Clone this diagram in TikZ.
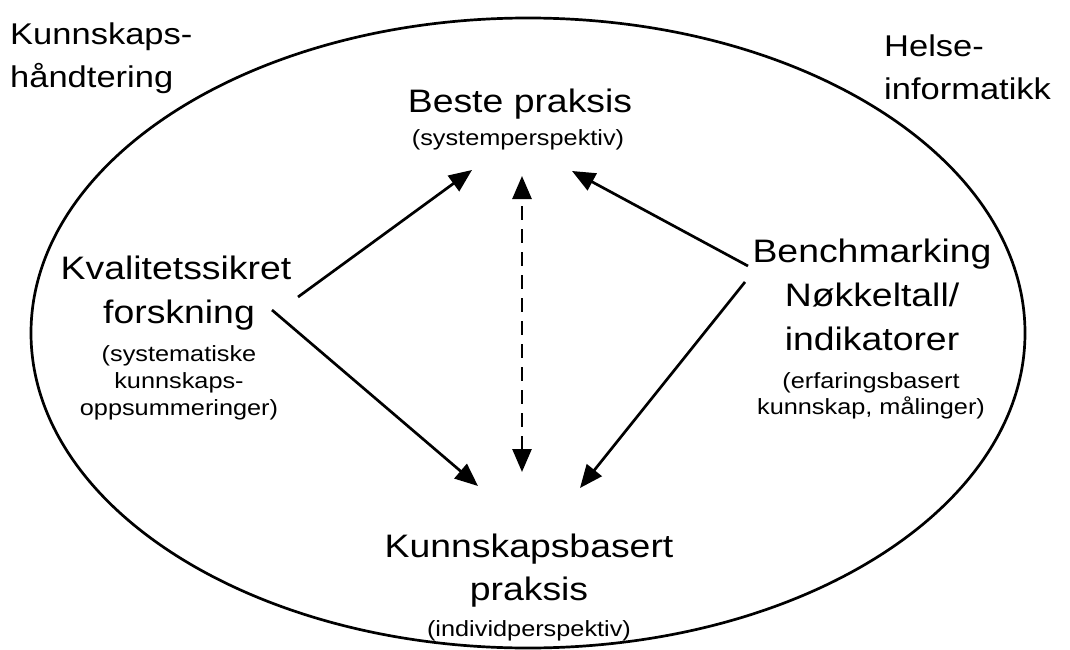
\documentclass[tikz,border=0pt]{standalone}
\usepackage{fontspec}
\setmainfont{Liberation Sans}[FakeStretch=1.15]
\usetikzlibrary{arrows.meta}
\begin{document}
\begin{tikzpicture}[x=1pt,y=-1pt,
  big/.style={font=\fontsize{32.5}{40}\selectfont, inner sep=0pt, anchor=base},
  small/.style={font=\fontsize{22}{27}\selectfont, inner sep=0pt, anchor=base},
  corner/.style={font=\fontsize{30}{36}\selectfont, inner sep=0pt, anchor=base west},
  tip/.style={Triangle[length=23pt,width=19pt]},
  link/.style={line width=2.7pt, -{Triangle[length=23pt,width=19pt]}},
  both/.style={line width=2.7pt, dash pattern=on 14pt off 9pt,
    {Triangle[length=23pt,width=19pt]}-{Triangle[length=23pt,width=19pt]}}]
\useasboundingbox (0,0) rectangle (1070,650);

% outer domain
\draw[line width=2.7pt] (528,333) ellipse [x radius=497, y radius=315];

% corner labels
\node[corner] (kh1) at (10,45) {Kunnskaps-};
\node[corner] (kh2) at (10,88) {håndtering};
\node[corner] (hi1) at (884,57) {Helse-};
\node[corner] (hi2) at (884,100) {informatikk};

% best practice (top)
\node[big]   (bp1) at (520,113) {Beste praksis};
\node[small] (bp2) at (518,145) {(systemperspektiv)};

% quality-assured research (left)
\node[big]   (kf1) at (176,279) {Kvalitetssikret};
\node[big]   (kf2) at (179,323) {forskning};
\node[small] (kf3) at (179,361) {(systematiske};
\node[small] (kf4) at (179,388) {kunnskaps-};
\node[small] (kf5) at (179,415) {oppsummeringer)};

% benchmarking (right)
\node[big]   (bm1) at (872,262) {Benchmarking};
\node[big]   (bm2) at (872,306) {Nøkkeltall/};
\node[big]   (bm3) at (872,350) {indikatorer};
\node[small] (bm4) at (871,388) {(erfaringsbasert};
\node[small] (bm5) at (871,414) {kunnskap, målinger)};

% knowledge-based practice (bottom)
\node[big]   (kp1) at (529,557) {Kunnskapsbasert};
\node[big]   (kp2) at (529,600) {praksis};
\node[small] (kp3) at (529,636) {(individperspektiv)};

% arrow ends
\coordinate (kfUp)   at (298,297);
\coordinate (kfDown) at (272,310);
\coordinate (bmUp)   at (748,266);
\coordinate (bmDown) at (745,282);
\coordinate (bpL)    at (472,170);
\coordinate (bpR)    at (572,171);
\coordinate (bpM)    at (522,176);
\coordinate (kpL)    at (478,486);
\coordinate (kpR)    at (580,488);
\coordinate (kpM)    at (522,472);

\draw[link] (kfUp) -- (bpL);
\draw[link] (kfDown) -- (kpL);
\draw[link] (bmUp) -- (bpR);
\draw[link] (bmDown) -- (kpR);
\draw[both] (kpM) -- (bpM);
\end{tikzpicture}
\end{document}
